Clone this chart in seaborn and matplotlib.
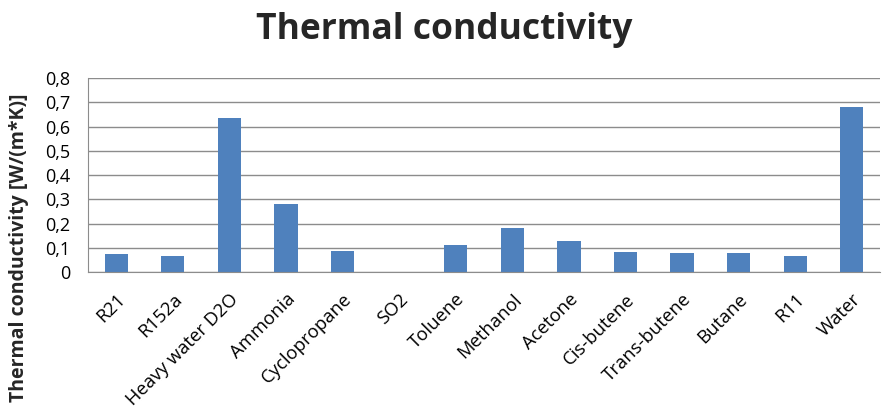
import matplotlib
matplotlib.use('Agg')
from matplotlib import pyplot as plt
from matplotlib.ticker import FuncFormatter, MultipleLocator
import pandas as pd
import seaborn as sns

fluids = ['R21', 'R152a', 'Heavy water D2O', 'Ammonia', 'Cyclopropane', 'SO2',
          'Toluene', 'Methanol', 'Acetone', 'Cis-butene', 'Trans-butene',
          'Butane', 'R11', 'Water']
conductivity = [0.074, 0.066, 0.636, 0.283, 0.087, 0.0,
                0.110, 0.183, 0.128, 0.084, 0.081,
                0.078, 0.066, 0.680]

df = pd.DataFrame({'Fluid': fluids, 'Conductivity': conductivity})

sns.set_style('white')
plt.rcParams['font.family'] = ['Open Sans', 'DejaVu Sans']

fig = plt.figure(figsize=(8.89, 4.13), dpi=100)
ax = fig.add_axes([0.099, 0.341, 0.891, 0.470])

sns.barplot(ax=ax, data=df, x='Fluid', y='Conductivity', color='#4F81BD',
            saturation=1, width=0.41, edgecolor='none')

ax.set_ylim(0, 0.8)
ax.yaxis.set_major_locator(MultipleLocator(0.1))
ax.yaxis.set_major_formatter(FuncFormatter(
    lambda v, _: '0' if abs(v) < 1e-9 else f'{v:.1f}'.replace('.', ',')))
ax.grid(axis='y', color='#8c8c8c', linewidth=1)
ax.set_axisbelow(True)
for side in ['top', 'right']:
    ax.spines[side].set_visible(False)
ax.spines['left'].set_color('#8c8c8c')
ax.spines['bottom'].set_color('#8c8c8c')
ax.tick_params(axis='both', length=0, colors='black')
ax.tick_params(axis='y', pad=13, labelsize=13)
ax.tick_params(axis='x', pad=13, labelsize=13.3)
ax.set_xlabel('')
ax.set_ylabel('')
for lbl in ax.get_xticklabels():
    lbl.set_rotation(45)
    lbl.set_ha('right')
    lbl.set_rotation_mode('anchor')

fig.text(0.5, 0.928, 'Thermal conductivity', ha='center', va='center',
         fontsize=25.5, fontweight='bold')
fig.text(0.021, 0.40, 'Thermal conductivity [W/(m*K)]', rotation=90,
         ha='center', va='center', fontsize=14, fontweight='bold')

fig.savefig('out.png', dpi=100)
